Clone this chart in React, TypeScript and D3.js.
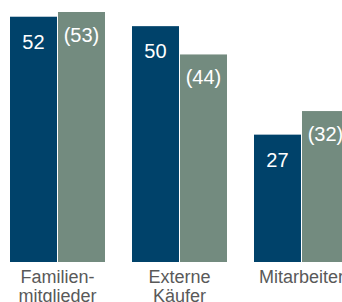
import React, { useRef, useEffect } from 'react';
import * as d3 from 'd3';

const categories = [['Familien-', 'mitglieder'], ['Externe', 'Käufer'], ['Mitarbeiter']];
const seriesKeys = ['aktuell', 'vorher'];
const currentValues = [52, 50, 27];
const previousValues = [53, 44, 32];

const colors = ['#00426a', '#738b7f'];

const App: React.FC = () => {
  const svgRef = useRef<SVGSVGElement | null>(null);

  useEffect(() => {
    if (!svgRef.current) return;
    const width = 342;
    const height = 302;
    const baseline = 262;

    const svg = d3.select(svgRef.current)
      .attr('width', width)
      .attr('height', height);

    const x0 = d3.scaleBand()
      .domain(categories.map((_, i) => String(i)))
      .range([10, 349])
      .paddingInner(27 / 122)
      .paddingOuter(0);

    const x1 = d3.scaleBand()
      .domain(seriesKeys)
      .range([0, x0.bandwidth()])
      .paddingInner(2 / 95);

    const y = d3.scaleLinear()
      .domain([0, 53])
      .range([baseline, 12]);

    const rows = categories.map((_, i) => ({
      i,
      values: [currentValues[i], previousValues[i]],
    }));

    const groups = svg.selectAll('g.grp')
      .data(rows)
      .join('g')
      .attr('class', 'grp')
      .attr('transform', d => `translate(${x0(String(d.i))},0)`);

    const bars = groups.selectAll('g.bar')
      .data(d => d.values.map((v, k) => ({ key: seriesKeys[k], k, v })))
      .join('g')
      .attr('class', 'bar');

    bars.append('rect')
      .attr('x', d => x1(d.key)!)
      .attr('y', d => y(d.v))
      .attr('width', x1.bandwidth())
      .attr('height', d => baseline - y(d.v))
      .attr('fill', d => colors[d.k]);

    bars.append('text')
      .attr('x', d => x1(d.key)! + x1.bandwidth() / 2)
      .attr('y', d => y(d.v) + (d.k === 0 ? 32 : 30))
      .attr('text-anchor', 'middle')
      .attr('fill', '#ffffff')
      .attr('font-family', 'Liberation Sans, Arial, sans-serif')
      .attr('font-size', '20px')
      .text(d => (d.k === 0 ? `${d.v}` : `(${d.v})`));

    // category labels
    groups.append('text')
      .attr('text-anchor', 'middle')
      .attr('fill', '#595959')
      .attr('font-family', 'Liberation Sans, Arial, sans-serif')
      .attr('font-size', '18px')
      .selectAll('tspan')
      .data(d => categories[d.i])
      .join('tspan')
      .attr('x', x0.bandwidth() / 2)
      .attr('y', (_, j) => 283 + j * 19)
      .text(d => d);

    return () => {
      d3.select(svgRef.current).selectAll('*').remove();
    };
  }, []);

  return (
    <svg ref={svgRef} style={{ position: 'absolute', left: 0, top: 0, display: 'block' }}></svg>
  );
};

export default App;
